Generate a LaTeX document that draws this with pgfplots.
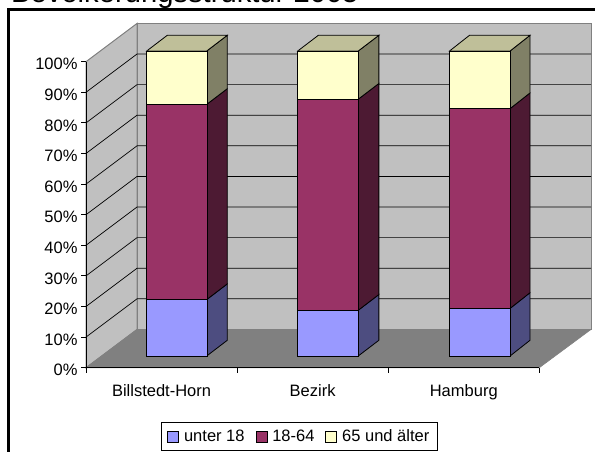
\documentclass[border=0pt]{standalone}
\usepackage{pgfplots}
\usepackage{pgfplotstable}
\usepackage{fontspec}
\setmainfont{Liberation Sans}
\pgfplotsset{compat=1.18}
\definecolor{cblue}{HTML}{9999FF}
\definecolor{cpurple}{HTML}{993366}
\definecolor{cyellow}{HTML}{FFFFCC}
\definecolor{sblue}{HTML}{4D4D80}
\definecolor{spurple}{HTML}{4D1A33}
\definecolor{syellow}{HTML}{808066}
\definecolor{tyellow}{HTML}{BFBF99}
\definecolor{wall}{HTML}{C0C0C0}
\definecolor{floorc}{HTML}{808080}
\pgfplotstableread{
x young mid old
176.7 18.5 64.0 17.5
328.0 15.0 69.2 15.8
479.8 15.6 65.5 18.9
}\shares
\newcommand{\chartfont}{\fontsize{16.5bp}{19bp}\selectfont}
\pgfplotsset{
  chartframe/.style={
    at={(86bp,84.3bp)}, anchor=south west, scale only axis,
    width=453.3bp, xmin=86, xmax=539.3, clip=false},
  keybox/.style={legend image code/.code={
    \draw[##1,draw=black,line width=.7bp] (0bp,-5.5bp) rectangle (11bp,5.5bp);}}
}
\begin{document}
\begin{tikzpicture}
\useasboundingbox (0,0) rectangle (595bp,452bp);
\clip (0,0) rectangle (595bp,452bp);
\node[anchor=base west,inner sep=0pt] at (11bp,449.5bp) {\fontsize{29.2bp}{32bp}\selectfont Bevölkerungsstruktur 2005};
\draw[line width=3bp] (8bp,-5bp) -- (8bp,442.5bp) -- (600bp,442.5bp);
% walls, floor, grid, axes
\begin{axis}[chartframe, height=306bp, ymin=0, ymax=100,
  axis on top=true,
  axis x line*=bottom, axis y line*=left,
  axis line style={-, line width=.8bp, black},
  ytick={0,10,...,100},
  yticklabel={\pgfmathprintnumber{\tick}\%},
  /pgf/number format/assume math mode=true,
  xtick={86,237.1,388.2,539.3},
  x tick label as interval=true,
  xticklabels={Billstedt-Horn,Bezirk,Hamburg},
  tick style={black,line width=.8bp},
  major tick length=5bp,
  tick align=outside,
  tick label style={font=\chartfont},
  yticklabel style={yshift=-2.5bp},
  xticklabel style={yshift=-8bp},
]
\addplot[no marks,fill=wall,draw=floorc,line width=1bp] coordinates {(86,0)(137,12.5)(137,112.5)(86,100)} --cycle;
\addplot[no marks,fill=wall,draw=floorc,line width=1bp] coordinates {(137,12.5)(591,12.5)(591,112.5)(137,112.5)} --cycle;
\addplot[no marks,fill=floorc,draw=floorc,line width=.6bp] coordinates {(86,0)(539.3,0)(591,12.5)(137,12.5)} --cycle;
\addplot[no marks,black,line width=.7bp] coordinates {(86,10)(137,22.5)(591,22.5)};
\addplot[no marks,black,line width=.7bp] coordinates {(86,20)(137,32.5)(591,32.5)};
\addplot[no marks,black,line width=.7bp] coordinates {(86,30)(137,42.5)(591,42.5)};
\addplot[no marks,black,line width=.7bp] coordinates {(86,40)(137,52.5)(591,52.5)};
\addplot[no marks,black,line width=.7bp] coordinates {(86,50)(137,62.5)(591,62.5)};
\addplot[no marks,black,line width=.7bp] coordinates {(86,60)(137,72.5)(591,72.5)};
\addplot[no marks,black,line width=.7bp] coordinates {(86,70)(137,82.5)(591,82.5)};
\addplot[no marks,black,line width=.7bp] coordinates {(86,80)(137,92.5)(591,92.5)};
\addplot[no marks,black,line width=.7bp] coordinates {(86,90)(137,102.5)(591,102.5)};
\end{axis}
% side and top faces of the bars
\begin{axis}[chartframe, at={(86bp,96bp)}, height=305bp, ymin=0, ymax=100, hide axis]
% Billstedt-Horn
\addplot[no marks,fill=sblue,draw=black,line width=.8bp] coordinates {(206.7,0)(227.3,5.15)(227.3,23.65)(206.7,18.5)} --cycle;
\addplot[no marks,fill=spurple,draw=black,line width=.8bp] coordinates {(206.7,18.5)(227.3,23.65)(227.3,87.65)(206.7,82.5)} --cycle;
\addplot[no marks,fill=syellow,draw=black,line width=.8bp] coordinates {(206.7,82.5)(227.3,87.65)(227.3,105.15)(206.7,100)} --cycle;
\addplot[no marks,fill=tyellow,draw=black,line width=.8bp] coordinates {(146.7,100)(206.7,100)(227.3,105.15)(167.3,105.15)} --cycle;
% Bezirk
\addplot[no marks,fill=sblue,draw=black,line width=.8bp] coordinates {(358.25,0)(378.85,5.15)(378.85,20.15)(358.25,15)} --cycle;
\addplot[no marks,fill=spurple,draw=black,line width=.8bp] coordinates {(358.25,15)(378.85,20.15)(378.85,89.35)(358.25,84.2)} --cycle;
\addplot[no marks,fill=syellow,draw=black,line width=.8bp] coordinates {(358.25,84.2)(378.85,89.35)(378.85,105.15)(358.25,100)} --cycle;
\addplot[no marks,fill=tyellow,draw=black,line width=.8bp] coordinates {(297.75,100)(358.25,100)(378.85,105.15)(318.35,105.15)} --cycle;
% Hamburg
\addplot[no marks,fill=sblue,draw=black,line width=.8bp] coordinates {(510.05,0)(530,5.15)(530,20.75)(510.05,15.6)} --cycle;
\addplot[no marks,fill=spurple,draw=black,line width=.8bp] coordinates {(510.05,15.6)(530,20.75)(530,86.25)(510.05,81.1)} --cycle;
\addplot[no marks,fill=syellow,draw=black,line width=.8bp] coordinates {(510.05,81.1)(530,86.25)(530,105.15)(510.05,100)} --cycle;
\addplot[no marks,fill=tyellow,draw=black,line width=.8bp] coordinates {(449.55,100)(510.05,100)(530,105.15)(469.5,105.15)} --cycle;
\end{axis}
% front faces
\begin{axis}[chartframe, at={(86bp,96bp)}, height=305bp, ymin=0, ymax=100, hide axis,
  ybar stacked, bar width=60.5,
  legend columns=3,
  legend cell align=left,
  legend style={at={(rel axis cs:0.1654,-0.3105)}, anchor=south west,
    draw=black, fill=white, line width=.8bp, font=\chartfont,
    inner xsep=6bp, inner ysep=5bp,
    /tikz/every odd column/.append style={column sep=3bp},
    /tikz/every even column/.append style={column sep=9bp}},
]
\addplot[fill=cblue,draw=black,line width=.8bp,keybox] table[x=x,y=young] {\shares};
\addplot[fill=cpurple,draw=black,line width=.8bp,keybox] table[x=x,y=mid] {\shares};
\addplot[fill=cyellow,draw=black,line width=.8bp,keybox] table[x=x,y=old] {\shares};
\legend{unter 18,18-64,65 und älter}
\end{axis}
\end{tikzpicture}
\end{document}
